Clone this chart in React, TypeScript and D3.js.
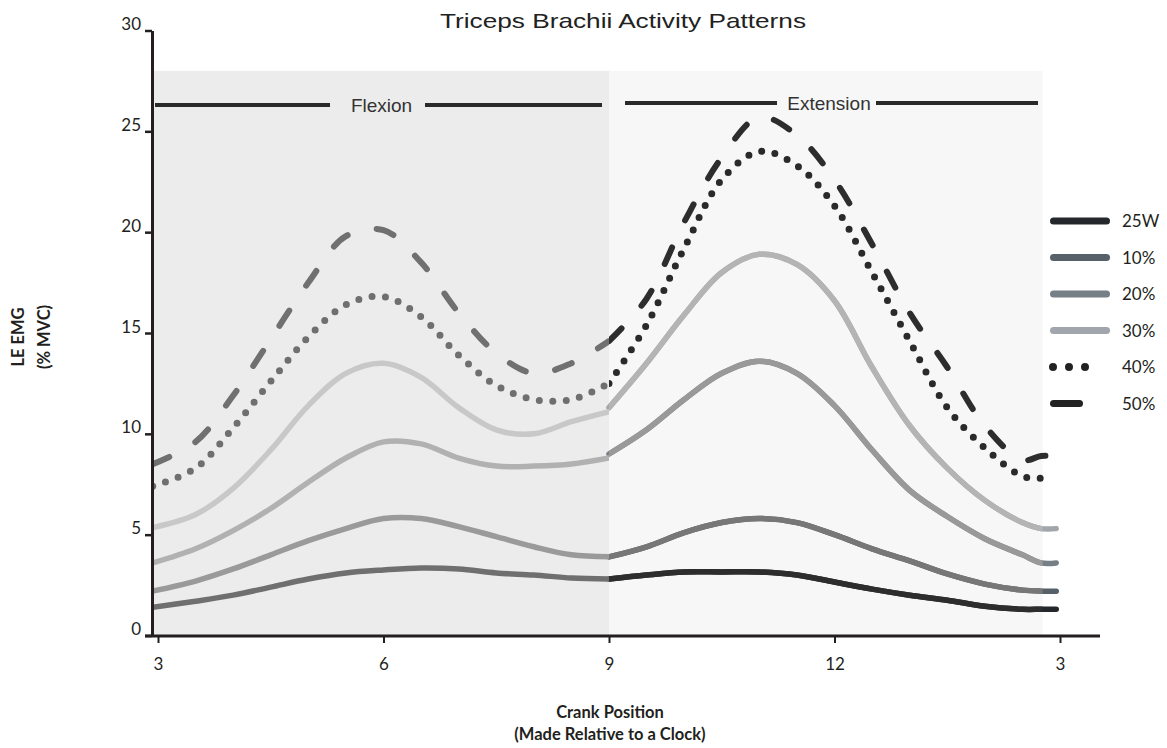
import React, { useEffect, useRef } from "react";
import * as d3 from "d3";

const WIDTH = 1167;
const HEIGHT = 748;

// crank position in clock hours (15 == 3 o'clock again)
const flexionX = [2.93, 3.5, 4, 4.5, 5, 5.5, 6, 6.5, 7, 7.5, 8, 8.5, 9];
const extensionX = [9, 9.5, 10, 10.5, 11, 11.5, 12, 12.5, 13, 13.5, 14, 14.5, 14.75, 14.95];

const seriesNames = ["25W", "10%", "20%", "30%", "40%", "50%"];
const seriesStyles = ["solid", "solid", "solid", "solid", "dot", "dash"];

const flex25W = [1.4, 1.7, 2.0, 2.4, 2.8, 3.1, 3.25, 3.35, 3.3, 3.1, 3.0, 2.85, 2.8];
const flex10 = [2.2, 2.7, 3.3, 4.0, 4.7, 5.3, 5.8, 5.8, 5.4, 4.9, 4.4, 4.0, 3.9];
const flex20 = [3.6, 4.3, 5.2, 6.3, 7.6, 8.8, 9.6, 9.5, 8.8, 8.4, 8.4, 8.5, 8.8];
const flex30 = [5.35, 6.0, 7.3, 9.2, 11.4, 13.0, 13.5, 12.8, 11.3, 10.2, 10.0, 10.6, 11.1];
const flex40 = [7.4, 8.3, 10.3, 12.6, 14.8, 16.4, 16.8, 15.8, 13.9, 12.4, 11.7, 11.7, 12.5];
const flex50 = [8.5, 9.6, 11.9, 14.7, 17.5, 19.8, 20.1, 18.5, 16.0, 14.0, 13.0, 13.5, 14.6];

const ext25W = [2.8, 3.0, 3.15, 3.15, 3.15, 3.0, 2.65, 2.3, 2.0, 1.75, 1.45, 1.3, 1.3, 1.3];
const ext10 = [3.9, 4.4, 5.1, 5.6, 5.8, 5.6, 5.0, 4.3, 3.7, 3.05, 2.55, 2.25, 2.2, 2.2];
const ext20 = [9.0, 10.2, 11.7, 13.0, 13.6, 13.0, 11.4, 9.2, 7.2, 5.9, 4.8, 4.0, 3.6, 3.6];
const ext30 = [11.3, 13.5, 15.9, 18.0, 18.9, 18.4, 16.6, 13.3, 10.4, 8.3, 6.7, 5.6, 5.3, 5.3];
const ext40 = [12.5, 15.4, 19.2, 22.6, 24.0, 23.3, 21.3, 18.0, 14.6, 11.3, 9.3, 7.9, 7.8, 7.8];
const ext50 = [14.6, 16.7, 20.5, 23.7, 25.7, 24.8, 22.6, 19.4, 16.0, 13.3, 10.4, 8.7, 8.9, 8.9];

const flexionValues = [flex25W, flex10, flex20, flex30, flex40, flex50];
const extensionValues = [ext25W, ext10, ext20, ext30, ext40, ext50];

const yTicks = [0, 5, 10, 15, 20, 25, 30];
const xTicks = [3, 6, 9, 12, 15];

const flexColors = ["#6f6f6f", "#9a9a9a", "#b1b1b1", "#c8c8c8", "#6f6f6f", "#707070"];
const extColors = ["#2d2d2d", "#777777", "#999999", "#b4b4b4", "#2a2a2a", "#2d2d2d"];
const legendColors = ["#24282c", "#56616a", "#767e86", "#a0a6ac", "#222222", "#222222"];

const AXIS = "#231f20";
const TICK_FONT = "Lato, 'Open Sans', sans-serif";

const x = d3.scaleLinear().domain([3, 15]).range([158, 1060]);
const y = d3.scaleLinear().domain([0, 30]).range([635.5, 30.5]);

const line = d3
  .line<[number, number]>()
  .x((d) => x(d[0]))
  .y((d) => y(d[1]))
  .curve(d3.curveCatmullRom.alpha(0.5));

const dashFor = (style: string) =>
  style === "dot" ? "0 13.5" : style === "dash" ? "18 30" : undefined;
const widthFor = (style: string) => (style === "dot" ? 7 : style === "dash" ? 6 : 5.5);

export default function App() {
  const yAxisRef = useRef<SVGGElement>(null);
  const xAxisRef = useRef<SVGGElement>(null);

  useEffect(() => {
    const ya = d3.select(yAxisRef.current);
    ya.selectAll("*").remove();
    ya.call(
      d3.axisLeft(y).tickValues(yTicks).tickSize(7).tickSizeOuter(0).tickPadding(4)
    );
    ya.select(".domain").attr("stroke", AXIS).attr("stroke-width", 3);
    ya.selectAll(".tick line").attr("stroke", AXIS).attr("stroke-width", 2.5);
    ya.selectAll(".tick text")
      .attr("fill", AXIS)
      .attr("font-size", 17)
      .attr("dy", "-0.05em")
      .attr("font-family", TICK_FONT);

    const xa = d3.select(xAxisRef.current);
    xa.selectAll("*").remove();
    xa.call(
      d3
        .axisBottom(x)
        .tickValues(xTicks)
        .tickSize(7)
        .tickPadding(15)
        .tickFormat((d) => String(+d > 12 ? +d - 12 : +d))
    );
    xa.select(".domain").remove();
    xa.selectAll(".tick line").attr("stroke", AXIS).attr("stroke-width", 2);
    xa.selectAll(".tick text")
      .attr("fill", AXIS)
      .attr("font-size", 17)
      .attr("font-family", TICK_FONT);
  }, []);

  const flexData = flexionValues.map((vals) =>
    vals.map((v, i) => [flexionX[i], v] as [number, number])
  );
  const extData = extensionValues.map((vals) =>
    vals.map((v, i) => [extensionX[i], v] as [number, number])
  );

  const x0 = 153;
  const xMid = x(9);
  const xEnd = x(14.77);

  return (
    <svg
      width={WIDTH}
      height={HEIGHT}
      style={{ position: "absolute", left: 0, top: 0, background: "#fff" }}
    >
      <defs>
        <clipPath id="flexClip">
          <rect x={x0} y={0} width={xMid - x0} height={HEIGHT} />
        </clipPath>
        <clipPath id="extClip">
          <rect x={xMid} y={0} width={xEnd - xMid} height={HEIGHT} />
        </clipPath>
        <clipPath id="extClipWide">
          <rect x={xMid} y={0} width={xEnd + 6 - xMid} height={HEIGHT} />
        </clipPath>
      </defs>

      <text
        x={623}
        y={28}
        textAnchor="middle"
        fontFamily="'Liberation Sans', Arial, sans-serif"
        fontSize={21}
        fill="#222"
        textLength={366}
        lengthAdjust="spacingAndGlyphs"
      >
        Triceps Brachii Activity Patterns
      </text>

      {/* phase backgrounds */}
      <rect x={x0} y={y(28)} width={xMid - x0} height={y(0) - y(28)} fill="#ececec" />
      <rect x={xMid} y={y(28)} width={xEnd - xMid} height={y(0) - y(28)} fill="#f7f7f7" />

      {/* phase brackets */}
      <g stroke="#2a2a2a" strokeWidth={4}>
        <line x1={155} x2={330} y1={105} y2={105} />
        <line x1={425} x2={602} y1={105} y2={105} />
        <line x1={625} x2={777} y1={103} y2={103} />
        <line x1={876} x2={1038} y1={103} y2={103} />
      </g>
      <g fontFamily="'Liberation Sans', Arial, sans-serif" fontSize={19} fill="#333" textAnchor="middle">
        <text x={381.5} y={112}>Flexion</text>
        <text x={829} y={110}>Extension</text>
      </g>

      {/* stubs past the shaded area, original colours */}
      {extData.map((d, i) =>
        seriesStyles[i] === "solid" ? (
          <path
            key={"stub" + i}
            d={line(d) || ""}
            fill="none"
            stroke={legendColors[i]}
            strokeWidth={widthFor(seriesStyles[i])}
            strokeLinecap="round"
          />
        ) : null
      )}

      {flexData.map((d, i) => (
        <path
          key={"flex" + i}
          d={line(d) || ""}
          fill="none"
          clipPath="url(#flexClip)"
          stroke={flexColors[i]}
          strokeWidth={widthFor(seriesStyles[i])}
          strokeLinecap="round"
          strokeDasharray={dashFor(seriesStyles[i])}
        />
      ))}
      {extData.map((d, i) => (
        <path
          key={"ext" + i}
          d={line(d) || ""}
          fill="none"
          clipPath={seriesStyles[i] === "solid" ? "url(#extClip)" : "url(#extClipWide)"}
          stroke={extColors[i]}
          strokeWidth={widthFor(seriesStyles[i])}
          strokeLinecap="round"
          strokeDasharray={dashFor(seriesStyles[i])}
        />
      ))}

      {/* axes */}
      <line x1={145} x2={1100} y1={636} y2={636} stroke={AXIS} strokeWidth={3} />
      <g ref={xAxisRef} transform="translate(0,636)" />
      <g ref={yAxisRef} transform="translate(152,0)" />

      {/* axis titles */}
      <g fontFamily={TICK_FONT} fontWeight="bold" fontSize={16.5} fill="#231f20" textAnchor="middle">
        <text transform="translate(24,337) rotate(-90)">LE EMG</text>
        <text transform="translate(50,337) rotate(-90)">(% MVC)</text>
        <text x={610} y={718}>Crank Position</text>
        <text x={610} y={740}>(Made Relative to a Clock)</text>
      </g>

      {/* legend */}
      {seriesNames.map((name, i) => {
        const ly = 221 + i * 36.5;
        const style = seriesStyles[i];
        return (
          <g key={name}>
            {style === "dot" ? (
              <line
                x1={1053}
                x2={1101}
                y1={ly}
                y2={ly}
                stroke={legendColors[i]}
                strokeWidth={8}
                strokeLinecap="round"
                strokeDasharray="0 16"
              />
            ) : (
              <line
                x1={1053.5}
                x2={style === "dash" ? 1079.5 : 1106.5}
                y1={ly}
                y2={ly}
                stroke={legendColors[i]}
                strokeWidth={7}
                strokeLinecap="round"
              />
            )}
            <text
              x={1122}
              y={ly + 6}
              fontFamily={TICK_FONT}
              fontSize={17}
              fill="#231f20"
            >
              {name}
            </text>
          </g>
        );
      })}
    </svg>
  );
}
